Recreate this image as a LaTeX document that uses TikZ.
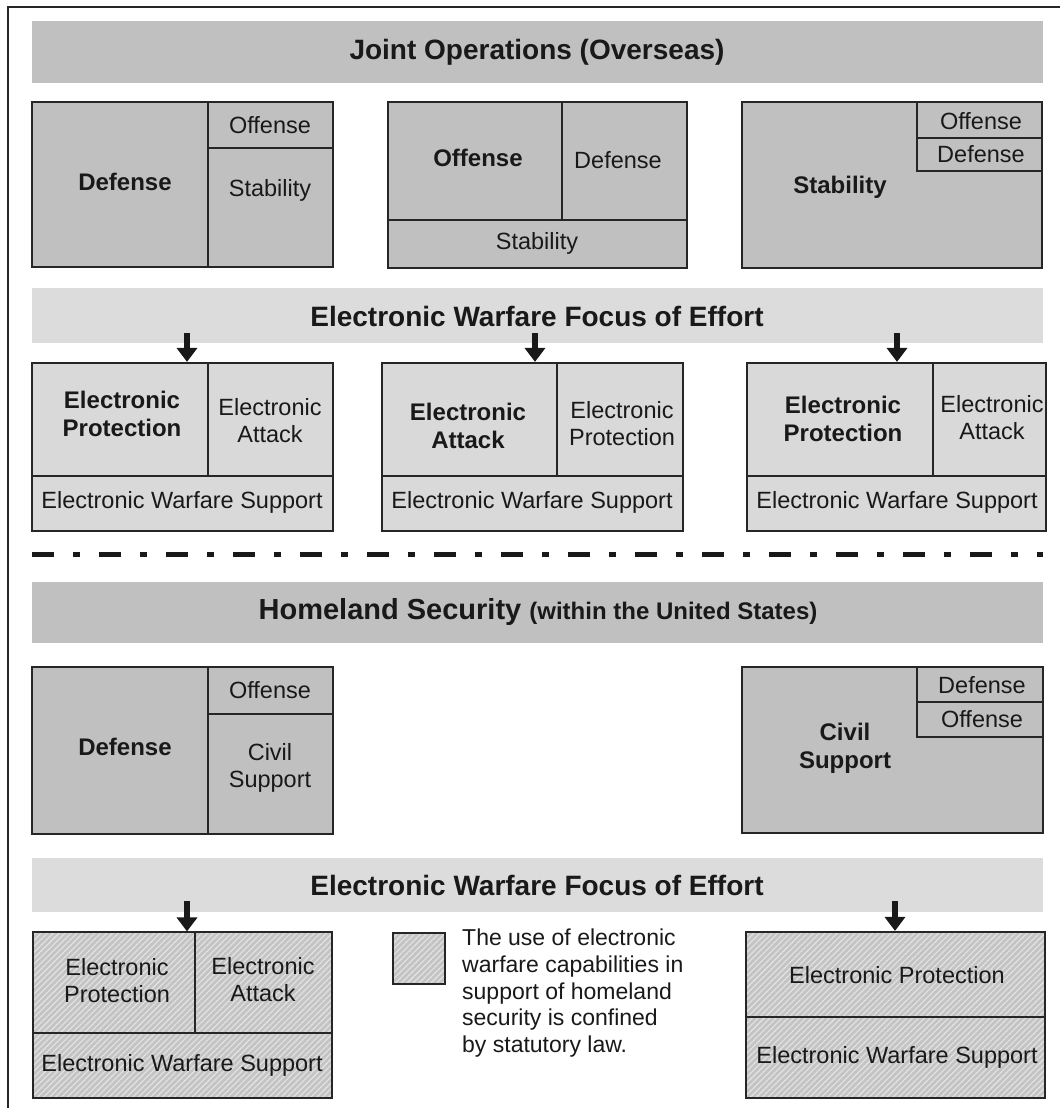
\documentclass[tikz,border=0pt]{standalone}
\usepackage{fontspec}
\setmainfont{Liberation Sans}
\usetikzlibrary{fit,arrows.meta,patterns.meta}
\definecolor{darkfill}{RGB}{192,192,192}
\definecolor{lightfill}{RGB}{220,220,220}
\definecolor{boxlight}{RGB}{217,217,217}
\definecolor{hatchbg}{RGB}{196,196,196}
\definecolor{hatchln}{RGB}{228,228,228}
\definecolor{ink}{RGB}{25,25,25}
\definecolor{edge}{RGB}{38,38,38}
\tikzset{
  bar/.style={inner sep=0pt, draw=none},
  darkbar/.style={bar, fill=darkfill},
  lightbar/.style={bar, fill=lightfill},
  cellbase/.style={inner sep=0pt, draw=edge, line width=2.2pt},
  darkcell/.style={cellbase, fill=darkfill},
  lightcell/.style={cellbase, fill=boxlight},
  hatchcell/.style={cellbase, preaction={fill=hatchbg},
     pattern={Lines[angle=45,distance=4.2pt,line width=1.1pt]}, pattern color=hatchln},
  divider/.style={draw=edge, line width=2.2pt},
  txt/.style={font=\fontsize{23.5}{27}\selectfont, text=ink, align=center, inner sep=0pt},
  btxt/.style={txt, font=\bfseries\fontsize{24}{28}\selectfont},
  ttl/.style={font=\bfseries\fontsize{28}{32}\selectfont, text=ink, inner sep=0pt},
  focus/.style={line width=6pt, draw=ink, -{Triangle[width=20pt,length=14pt]}},
  sepline/.style={line width=5pt, draw=ink, dash pattern=on 22pt off 19pt on 7pt off 19pt}
}
\begin{document}
\begin{tikzpicture}[x=1pt,y=-1pt]
\useasboundingbox (0,0) rectangle (1060,1117);
\fill[white] (0,0) rectangle (1060,1117);
% frame
\draw[draw=edge, line width=2pt] (8,1108) -- (8,7) -- (1060,7);

% ===== Joint operations =====
\node[darkbar, fit={(32,21)(1043,83)}] (bar1) {};
\node[ttl] (bar1t) at (537,52) {Joint Operations (Overseas)};

% box 1
\node[darkcell, fit={(32,102)(333,267)}] (jo1) {};
\draw[divider] (208,102) -- (208,267);
\draw[divider] (208,148) -- (333,148);
\node[btxt] (jo1a) at (125,182) {Defense};
\node[txt] (jo1b) at (270,125) {Offense};
\node[txt] (jo1c) at (270,190) {Stability};

% box 2
\node[darkcell, fit={(388,102)(687,268)}] (jo2) {};
\draw[divider] (562,102) -- (562,220);
\draw[divider] (388,220) -- (687,220);
\node[btxt] (jo2a) at (478,158) {Offense};
\node[txt] (jo2b) at (618,160) {Defense};
\node[txt] (jo2c) at (537,243) {Stability};

% box 3
\node[darkcell, fit={(742,102)(1042,268)}] (jo3) {};
\node[darkcell, fit={(917,102)(1042,138)}] (jo3i) {};
\node[darkcell, fit={(917,138)(1042,171)}] (jo3j) {};
\node[txt] (jo3b) at (981,121) {Offense};
\node[txt] (jo3c) at (981,154) {Defense};
\node[btxt] (jo3a) at (840,187) {Stability};

% ===== EW focus (overseas) =====
\node[lightbar, fit={(32,288)(1043,343)}] (bar2) {};
\node[ttl] (bar2t) at (537,316) {Electronic Warfare Focus of Effort};

\node[lightcell, fit={(32,363)(333,531)}] (ew1) {};
\draw[divider] (208,363) -- (208,476);
\draw[divider] (32,476) -- (333,476);
\node[btxt] (ew1a) at (122,414) {Electronic\\Protection};
\node[txt] (ew1b) at (270,421) {Electronic\\Attack};
\node[txt] (ew1c) at (182,502) {Electronic Warfare Support};

\node[lightcell, fit={(382,363)(683,531)}] (ew2) {};
\draw[divider] (557,363) -- (557,476);
\draw[divider] (382,476) -- (683,476);
\node[btxt] (ew2a) at (468,426) {Electronic\\Attack};
\node[txt] (ew2b) at (622,424) {Electronic\\Protection};
\node[txt] (ew2c) at (532,502) {Electronic Warfare Support};

\node[lightcell, fit={(747,363)(1046,531)}] (ew3) {};
\draw[divider] (933,363) -- (933,476);
\draw[divider] (747,476) -- (1046,476);
\node[btxt] (ew3a) at (843,419) {Electronic\\Protection};
\node[txt] (ew3b) at (992,418) {Electronic\\Attack};
\node[txt] (ew3c) at (897,502) {Electronic Warfare Support};

\coordinate (f1) at (187,333);
\coordinate (f2) at (535,333);
\coordinate (f3) at (897,333);
\draw[focus] (f1) -- (f1 |- ew1.north);
\draw[focus] (f2) -- (f2 |- ew2.north);
\draw[focus] (f3) -- (f3 |- ew3.north);

% separator
\coordinate (s1) at (32,554);
\coordinate (s2) at (1043,554);
\draw[sepline] (s1) -- (s2);

% ===== Homeland security =====
\node[darkbar, fit={(32,582)(1043,643)}] (bar3) {};
\node[ttl, font=\bfseries\fontsize{29}{32}\selectfont] (bar3t) at (538,612) {Homeland Security {\fontsize{24}{28}\selectfont (within the United States)}};

\node[darkcell, fit={(32,667)(333,834)}] (hs1) {};
\draw[divider] (208,667) -- (208,834);
\draw[divider] (208,714) -- (333,714);
\node[btxt] (hs1a) at (125,747) {Defense};
\node[txt] (hs1b) at (270,690) {Offense};
\node[txt] (hs1c) at (270,768) {Civil\\Support};

\node[darkcell, fit={(742,667)(1043,833)}] (hs2) {};
\node[darkcell, fit={(917,667)(1043,702)}] (hs2i) {};
\node[darkcell, fit={(917,702)(1043,737)}] (hs2j) {};
\node[txt] (hs2b) at (982,685) {Defense};
\node[txt] (hs2c) at (982,719) {Offense};
\node[btxt] (hs2a) at (845,748) {Civil\\Support};

% ===== EW focus (homeland) =====
\node[lightbar, fit={(32,858)(1043,912)}] (bar4) {};
\node[ttl] (bar4t) at (537,885) {Electronic Warfare Focus of Effort};

\node[hatchcell, fit={(33,932)(332,1098)}] (h1) {};
\draw[divider] (195,932) -- (195,1033);
\draw[divider] (33,1033) -- (332,1033);
\node[txt] (h1a) at (117,981) {Electronic\\Protection};
\node[txt] (h1b) at (263,980) {Electronic\\Attack};
\node[txt] (h1c) at (182,1065) {Electronic Warfare Support};

\node[hatchcell, fit={(393,933)(445,984)}] (leg) {};
\node[txt, align=left, anchor=north west, font=\fontsize{23}{26.7}\selectfont] (legt) at (462,929)
  {The use of electronic\\warfare capabilities in\\support of homeland\\security is confined\\by statutory law.};

\node[hatchcell, fit={(746,932)(1045,1098)}] (h3) {};
\draw[divider] (746,1017) -- (1045,1017);
\node[txt] (h3a) at (897,975) {Electronic Protection};
\node[txt] (h3b) at (897,1057) {Electronic Warfare Support};

\coordinate (f4) at (187,901);
\coordinate (f5) at (895,901);
\draw[focus] (f4) -- (f4 |- h1.north);
\draw[focus] (f5) -- (f5 |- h3.north);
\end{tikzpicture}
\end{document}
